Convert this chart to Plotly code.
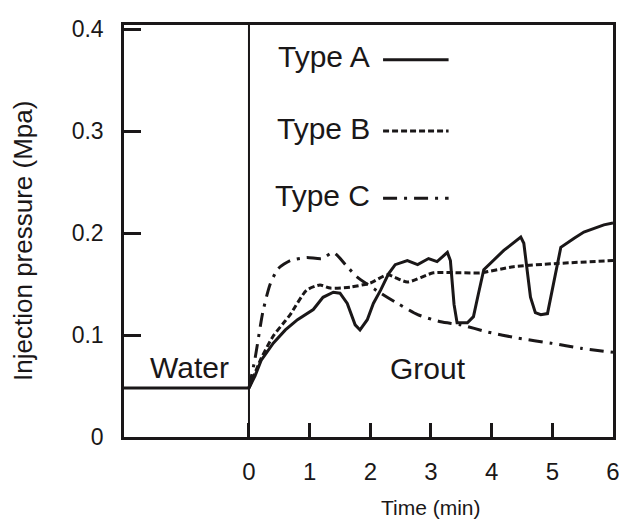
import plotly.graph_objects as go

# ---- data ----
water_x = [-2.06, 0.0]
water_y = [0.048, 0.048]

a_x = [0, 0.1, 0.2, 0.4, 0.6, 0.8, 1.06, 1.22, 1.39, 1.5, 1.62, 1.75, 1.83, 1.95, 2.05, 2.17, 2.3, 2.41,
       2.61, 2.78, 2.96, 3.1, 3.27, 3.32, 3.38, 3.43, 3.6, 3.7, 3.78, 3.87, 4.2, 4.48, 4.53, 4.58, 4.64,
       4.72, 4.81, 4.92, 4.97, 5.03, 5.14, 5.36, 5.52, 5.85, 6.0]
a_y = [0.048, 0.06, 0.075, 0.092, 0.105, 0.115, 0.125, 0.137, 0.142, 0.141, 0.131, 0.11, 0.105, 0.115,
       0.131, 0.144, 0.16, 0.169, 0.173, 0.169, 0.175, 0.172, 0.181, 0.173, 0.13, 0.112, 0.112, 0.118,
       0.14, 0.164, 0.183, 0.196, 0.19, 0.165, 0.137, 0.122, 0.12, 0.121, 0.135, 0.154, 0.186, 0.195,
       0.201, 0.208, 0.21]

b_x = [0, 0.2, 0.4, 0.6, 0.68, 0.95, 1.17, 1.34, 1.67, 2.0, 2.28, 2.61, 3.04, 3.49, 3.82, 4.36, 5.03, 6.0]
b_y = [0.048, 0.077, 0.099, 0.114, 0.12, 0.144, 0.149, 0.146, 0.147, 0.151, 0.159, 0.152, 0.161,
       0.161, 0.161, 0.167, 0.170, 0.173]

c_x = [0, 0.1, 0.23, 0.35, 0.48, 0.68, 0.95, 1.2, 1.39, 1.62, 1.78, 2.17, 2.45, 2.78, 3.16, 3.49,
       3.93, 4.43, 4.98, 5.47, 6.0]
c_y = [0.048, 0.077, 0.123, 0.150, 0.165, 0.173, 0.176, 0.175, 0.181, 0.167, 0.157, 0.141, 0.131,
       0.12, 0.113, 0.11, 0.103, 0.097, 0.092, 0.087, 0.083]

x_ticks = [0, 1, 2, 3, 4, 5, 6]
y_ticks = [0, 0.1, 0.2, 0.3, 0.4]
y_tick_text = ["0", "0.1", "0.2", "0.3", "0.4"]

series_names = ["Type A", "Type B", "Type C"]

INK = "#1a1718"
FONT = "Liberation Sans, Arial, sans-serif"

fig = go.Figure()
fig.add_trace(go.Scatter(x=water_x, y=water_y, mode="lines",
                         line=dict(color=INK, width=3), showlegend=False, name="Water"))
fig.add_trace(go.Scatter(x=a_x, y=a_y, mode="lines", name=series_names[0],
                         line=dict(color=INK, width=3), showlegend=False))
fig.add_trace(go.Scatter(x=b_x, y=b_y, mode="lines", name=series_names[1],
                         line=dict(color=INK, width=3, dash="6px,3px", shape="spline", smoothing=0.6),
                         showlegend=False))
fig.add_trace(go.Scatter(x=c_x, y=c_y, mode="lines", name=series_names[2],
                         line=dict(color=INK, width=3, dash="14px,7px,3px,7px", shape="spline", smoothing=0.6),
                         showlegend=False))

fig.add_vline(x=0, line=dict(color=INK, width=2))

# legend (text left of line sample)
legend_y = [0.373, 0.303, 0.237]
legend_dash = ["solid", "6px,3px", "14px,7px,3px,7px"]
for name, ly, dsh in zip(series_names, legend_y, legend_dash):
    fig.add_annotation(x=2.03, y=ly, xref="x", yref="y", text=name, showarrow=False,
                       xanchor="right", yanchor="middle",
                       font=dict(family=FONT, size=30, color=INK))
    fig.add_shape(type="line", xref="x", yref="y", x0=2.21, x1=3.29, y0=ly - 0.003, y1=ly - 0.003,
                  line=dict(color=INK, width=3, dash=dsh))

fig.add_annotation(x=-0.975, y=0.068, xref="x", yref="y", text="Water", showarrow=False,
                   xanchor="center", font=dict(family=FONT, size=30, color=INK))
fig.add_annotation(x=2.95, y=0.067, xref="x", yref="y", text="Grout", showarrow=False,
                   xanchor="center", font=dict(family=FONT, size=30, color=INK))
fig.add_annotation(x=0.627, y=-0.17, xref="paper", yref="paper", text="Time (min)", showarrow=False,
                   xanchor="center", yanchor="middle",
                   font=dict(family=FONT, size=21, color=INK))
fig.add_annotation(x=-0.2065, y=0.476, xref="paper", yref="paper", text="Injection pressure (Mpa)",
                   showarrow=False, textangle=-90, xanchor="center", yanchor="middle",
                   font=dict(family=FONT, size=26, color=INK))

fig.update_xaxes(range=[-2.06, 6.0], tickvals=x_ticks, ticks="inside", ticklen=14, tickwidth=3,
                 tickcolor=INK, showline=True, linecolor=INK, linewidth=2.5, mirror=True,
                 showgrid=False, zeroline=False, ticklabelstandoff=11, automargin=False,
                 ticklabeloverflow="allow",
                 tickfont=dict(family=FONT, size=24, color=INK))
fig.update_yaxes(range=[0, 0.404], tickvals=y_ticks, ticktext=y_tick_text, ticks="inside", ticklen=17,
                 tickwidth=3, tickcolor=INK, showline=True, linecolor=INK, linewidth=2.5, mirror=True,
                 showgrid=False, zeroline=False, ticklabelstandoff=13, automargin=False,
                 ticklabeloverflow="allow",
                 tickfont=dict(family=FONT, size=23, color=INK))

fig.update_layout(width=619, height=520, margin=dict(l=124, r=6, t=25, b=83),
                  plot_bgcolor="white", paper_bgcolor="white", showlegend=False)

# remove the page's default body margin so the figure fills the window exactly
fig.write_html("out.html", config={"displayModeBar": False},
               post_script="document.body.style.margin='0';document.body.style.overflow='hidden';")
